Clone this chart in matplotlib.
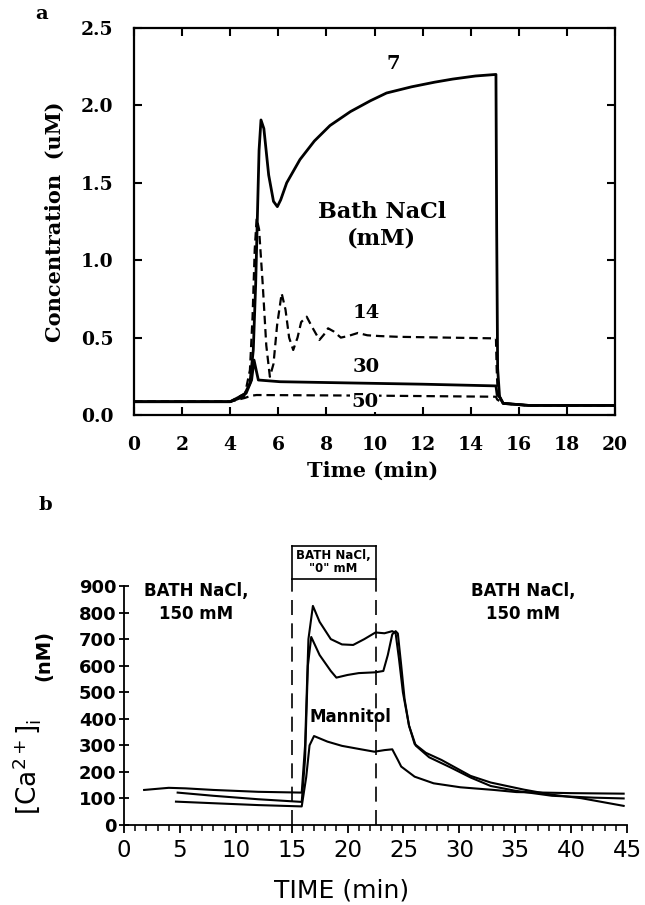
#!/usr/bin/env python3

import numpy as np
import matplotlib
matplotlib.use('Agg')
import matplotlib.pyplot as plt

# ---- panel a: simulated Ca concentration (uM) vs time (min)
t_7 = [0, 4.0, 4.55, 4.82, 4.96, 5.06, 5.13, 5.2, 5.28, 5.4, 5.6, 5.8, 5.96, 6.1, 6.35, 6.9,
       7.5, 8.15, 9.0, 9.83, 10.5, 11.54, 12.5, 13.25, 14.2, 15.05, 15.08, 15.12, 15.2, 15.35, 16.4, 20.0]
c_7 = [0.086, 0.086, 0.118, 0.205, 0.42, 0.85, 1.28, 1.71, 1.906, 1.85, 1.55, 1.38, 1.346, 1.39, 1.50, 1.65,
       1.77, 1.87, 1.96, 2.03, 2.08, 2.12, 2.15, 2.17, 2.19, 2.20, 1.2, 0.3, 0.118, 0.075, 0.062, 0.062]

t_14 = [0, 4.0, 4.62, 4.82, 4.93, 5.02, 5.1, 5.2, 5.35, 5.5, 5.65, 5.8, 5.95, 6.14, 6.3, 6.45, 6.62, 6.8,
        6.95, 7.18, 7.4, 7.71, 7.9, 8.07, 8.3, 8.6, 8.9, 9.31, 9.7, 10.2, 11.0, 13.0, 15.05, 15.08, 15.12,
        15.2, 15.35, 16.4, 20.0]
c_14 = [0.086, 0.086, 0.14, 0.29, 0.635, 1.07, 1.27, 1.2, 0.85, 0.45, 0.247, 0.33, 0.58, 0.786, 0.68, 0.5,
        0.42, 0.5, 0.6, 0.635, 0.57, 0.485, 0.52, 0.56, 0.54, 0.50, 0.51, 0.53, 0.515, 0.51, 0.505, 0.50, 0.495,
        0.3, 0.15, 0.118, 0.075, 0.062, 0.062]

t_30 = [0, 4.0, 4.66, 4.89, 4.99, 5.08, 5.17, 6.07, 9.0, 12.0, 15.05, 15.1, 15.2, 15.35, 16.4, 20.0]
c_30 = [0.086, 0.086, 0.14, 0.226, 0.355, 0.29, 0.226, 0.215, 0.207, 0.199, 0.188, 0.13, 0.118, 0.075, 0.062, 0.062]

t_50 = [0, 4.0, 4.6, 4.89, 5.1, 10.0, 15.05, 15.1, 15.2, 15.35, 16.4, 20.0]
c_50 = [0.086, 0.086, 0.11, 0.125, 0.129, 0.125, 0.118, 0.1, 0.09, 0.075, 0.062, 0.062]

# ---- panel b: measured [Ca2+]i (nM) vs time (min)
t_up = [1.8, 4.0, 5.5, 8.0, 12.0, 15.9, 16.2, 16.5, 16.9, 17.5, 18.5, 19.5, 20.5, 21.5, 22.5, 23.3, 24.0,
        24.3, 24.6, 24.95, 25.5, 26.0, 27.0, 28.4, 31.0, 32.8, 35.8, 38.3, 40.9, 44.7]
ca_up = [132, 140, 138, 132, 125, 122, 300, 700, 825, 765, 700, 680, 678, 700, 725, 722, 730,
         722, 626, 500, 374, 305, 272, 245, 185, 160, 133, 114, 101, 72]

t_mid = [4.8, 8.0, 12.0, 15.9, 16.2, 16.45, 16.75, 17.5, 18.5, 19.0, 20.0, 21.0, 22.5, 23.2, 23.6, 24.0,
         24.3, 24.5, 24.8, 25.1, 25.5, 26.1, 27.3, 29.2, 31.0, 32.8, 35.0, 38.3, 42.0, 44.7]
ca_mid = [122, 110, 97, 87, 250, 600, 708, 640, 580, 555, 565, 572, 575, 580, 640, 718,
          730, 721, 601, 475, 374, 299, 255, 217, 179, 147, 129, 110, 103, 100]

t_man = [4.65, 8.0, 12.0, 15.9, 16.3, 16.6, 17.0, 18.2, 19.5, 21.2, 22.4, 23.3, 24.0, 24.5, 24.8, 26.0,
         27.7, 30.1, 33.1, 35.1, 40.0, 44.7]
ca_man = [88, 82, 75, 70, 180, 300, 335, 314, 298, 285, 276, 282, 285, 245, 220, 182,
          157, 142, 132, 124, 120, 118]

a_xticks = np.arange(0, 21, 2)
a_yticks = np.arange(0, 2.51, 0.5)
b_xticks = np.arange(0, 46, 5)
b_yticks = np.arange(0, 901, 100)


if __name__ == "__main__":

    fig = plt.figure(figsize=(6.45, 9.05), dpi=100, facecolor='w')
    W, H = 645., 905.
    serif = 'DejaVu Serif'
    sans = 'DejaVu Sans'

    # ---------------- panel a
    ax = fig.add_axes([134 / W, (H - 415) / H, 481 / W, 387 / H])
    ax.plot(t_7, c_7, color='k', lw=2.0, solid_joinstyle='round')
    ax.plot(t_14, c_14, color='k', lw=1.6, linestyle=(0, (3.8, 2.2)))
    ax.plot(t_30, c_30, color='k', lw=2.0)
    ax.plot(t_50, c_50, color='k', lw=1.6, linestyle=(0, (3.8, 2.2)))

    ax.set_xlim(0, 20)
    ax.set_ylim(0, 2.5)
    ax.set_xticks(a_xticks)
    ax.set_yticks(a_yticks)
    ax.set_xticklabels(['%d' % v for v in a_xticks])
    ax.set_yticklabels(['%.1f' % v for v in a_yticks])
    ax.tick_params(direction='in', length=6, width=1.5, top=True, right=True, pad=15,
                   labelsize=13.5)
    for lab in ax.get_xticklabels() + ax.get_yticklabels():
        lab.set_fontfamily(serif)
        lab.set_fontweight('bold')
    for s in ax.spines.values():
        s.set_linewidth(1.6)

    fig.text(373 / W, 1 - 471 / H, 'Time (min)', ha='center', va='center',
             fontsize=15, fontweight='bold', family=serif)
    fig.text(55 / W, 1 - 222 / H, 'Concentration  (uM)', ha='center', va='center',
             rotation=90, fontsize=15, fontweight='bold', family=serif)

    tkw = dict(ha='center', va='center', fontsize=14, fontweight='bold', family=serif)
    ax.text(10.77, 2.27, '7', **tkw)
    ax.text(9.66, 0.66, '14', **tkw)
    ax.text(9.66, 0.31, '30', **tkw)
    ax.text(9.6, 0.085, '50', bbox=dict(boxstyle='square,pad=0.05', fc='w', ec='none'), **tkw)
    ax.text(10.3, 1.31, 'Bath NaCl', ha='center', va='center', fontsize=16,
            fontweight='bold', family=serif)
    ax.text(10.3, 1.14, '(mM)', ha='center', va='center', fontsize=16,
            fontweight='bold', family=serif)

    fig.text(42 / W, 1 - 14 / H, 'a', ha='center', va='center', fontsize=14,
             fontweight='bold', family=serif)

    # ---------------- panel b
    bx = fig.add_axes([124 / W, (H - 825) / H, 503 / W, 239 / H])
    for tt, cc in [(t_up, ca_up), (t_mid, ca_mid), (t_man, ca_man)]:
        bx.plot(tt, cc, color='k', lw=1.5)

    # solution-change markers
    for xv in (15, 22.5):
        bx.plot([xv, xv], [0, 926], color='k', lw=1.2, linestyle=(0, (9, 5)), clip_on=False)
        bx.plot([xv, xv], [926, 1051], color='k', lw=1.2, clip_on=False)
    bx.plot([15, 22.5], [926, 926], color='k', lw=1.2, clip_on=False)
    bx.plot([15, 22.5], [1051, 1051], color='k', lw=1.2, clip_on=False)
    bx.text(18.75, 990, 'BATH NaCl,\n"0" mM', ha='center', va='center', fontsize=8.5,
            fontweight='bold', family=sans, linespacing=1.05)

    bx.set_xlim(0, 45)
    bx.set_ylim(0, 900)
    bx.spines['top'].set_visible(False)
    bx.spines['right'].set_visible(False)
    bx.spines['left'].set_linewidth(1.3)
    bx.spines['bottom'].set_linewidth(1.3)
    bx.set_xticks(b_xticks)
    bx.set_xticks(np.arange(0, 46, 1), minor=True)
    bx.set_yticks(b_yticks)
    bx.tick_params(axis='x', which='major', direction='out', length=6, width=1.3,
                   labelsize=16.5, pad=4)
    bx.tick_params(axis='x', which='minor', direction='out', length=4, width=1.1)
    bx.tick_params(axis='y', direction='inout', length=7, width=1.3, labelsize=13, pad=2)
    for lab in bx.get_xticklabels():
        lab.set_fontfamily(sans)
    for lab in bx.get_yticklabels():
        lab.set_fontfamily(sans)
        lab.set_fontweight('bold')

    akw = dict(ha='center', va='center', fontsize=12, fontweight='bold', family=sans,
               linespacing=1.3)
    bx.text(6.45, 838, 'BATH NaCl,\n150 mM', **akw)
    bx.text(35.7, 838, 'BATH NaCl,\n150 mM', **akw)
    bx.text(20.3, 408, 'Mannitol', ha='center', va='center', fontsize=12,
            fontweight='bold', family=sans)

    fig.text(342 / W, 1 - 890 / H, 'TIME (min)', ha='center', va='center',
             fontsize=18, family=sans)
    plt.rcParams['mathtext.fontset'] = 'dejavusans'
    fig.text(27 / W, 1 - 767 / H, r'$\left[\mathrm{Ca}^{2+}\right]_{\mathrm{i}}$',
             ha='center', va='center', rotation=90, fontsize=19)
    fig.text(44 / W, 1 - 655 / H, '(nM)', ha='center', va='center', rotation=90,
             fontsize=14, fontweight='bold', family=sans)

    fig.text(45 / W, 1 - 505 / H, 'b', ha='center', va='center', fontsize=14,
             fontweight='bold', family=serif)

    plt.savefig('out.png', dpi=100)
